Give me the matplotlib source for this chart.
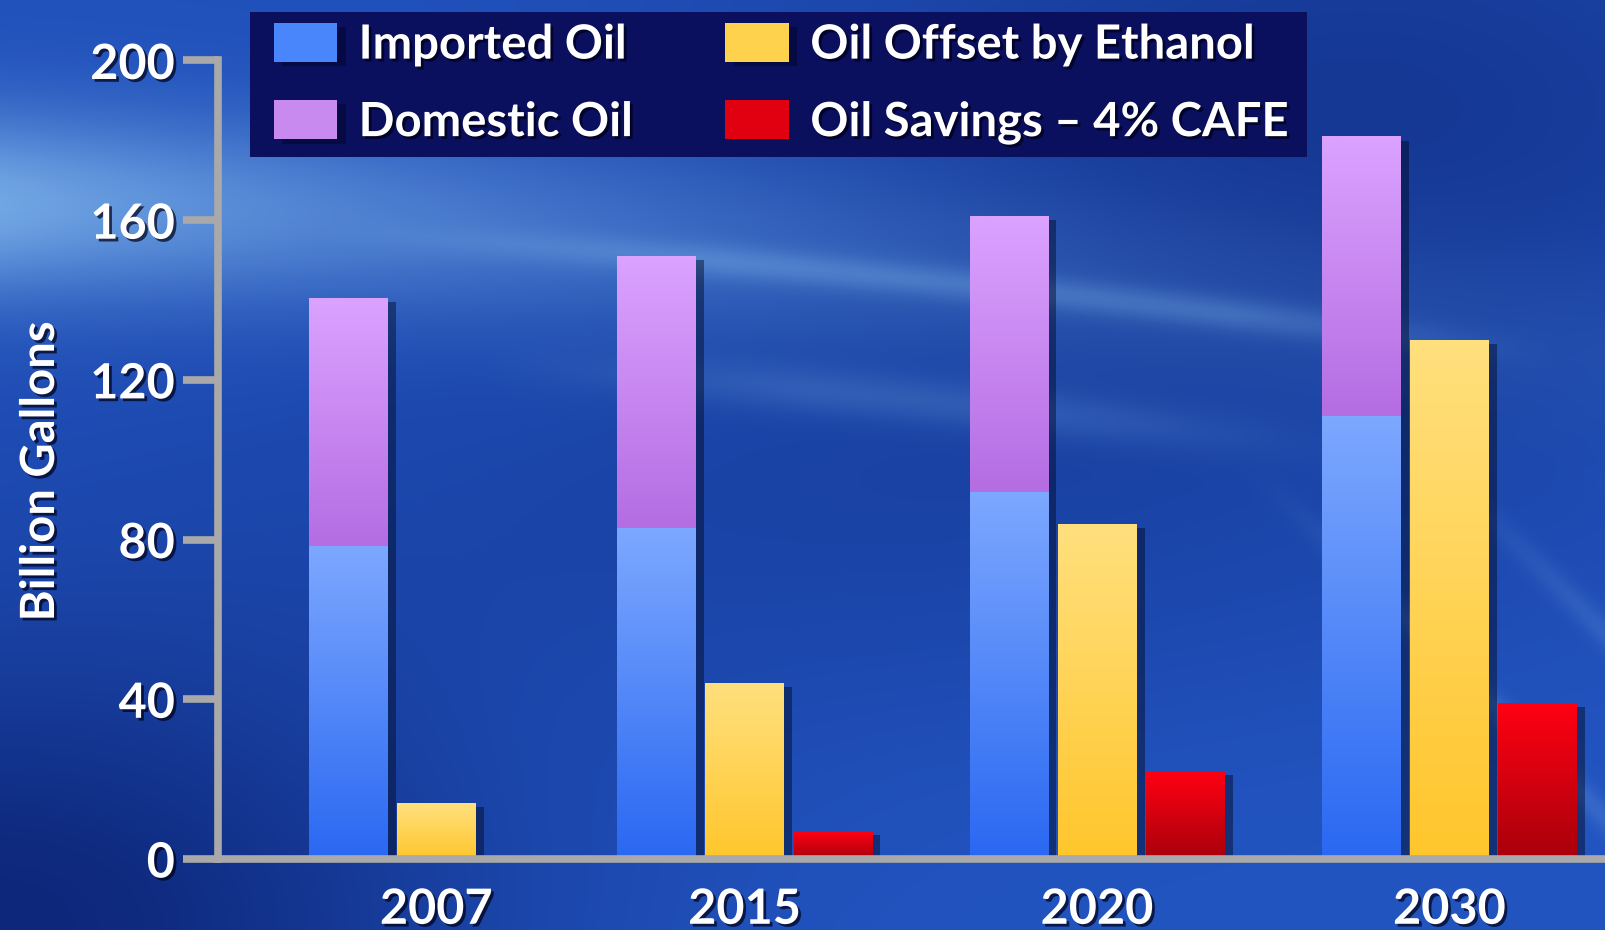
import numpy as np
import matplotlib
matplotlib.use('Agg')
import matplotlib.pyplot as plt
import matplotlib.patheffects as pe
from matplotlib.patches import Rectangle
from matplotlib.colors import LinearSegmentedColormap

# ---------------- data ----------------
years = ['2007', '2015', '2020', '2030']
imported_oil = [78.5, 83, 92, 111]
domestic_oil = [62, 68, 69, 70]
ethanol_offset = [14, 44, 84, 130]
cafe_savings = [0, 7, 22, 39]
series_labels = ['Imported Oil', 'Domestic Oil', 'Oil Offset by Ethanol', 'Oil Savings – 4% CAFE']
y_ticks = [0, 40, 80, 120, 160, 200]
y_label = 'Billion Gallons'

# ---------------- style ----------------
FONT = ['Lato', 'DejaVu Sans']
plt.rcParams['font.family'] = FONT
W, H = 1606, 930
fig = plt.figure(figsize=(W / 100, H / 100), dpi=100)

# background
def make_background(h=465, w=803):
    y, x = np.mgrid[0:1:h * 1j, 0:1:w * 1j]
    dark = np.array([8, 28, 105]) / 255
    mid = np.array([34, 84, 192]) / 255
    light = np.array([140, 195, 242]) / 255
    d1 = np.exp(-(((x - 0.0) / 0.30) ** 2 + ((y - 1.0) / 0.30) ** 2))
    d2 = np.exp(-(((x - 0.85) / 0.35) ** 2 + ((y - 0.12) / 0.30) ** 2))
    d3 = np.exp(-(((x - 0.55) / 0.5) ** 2 + ((y - 0.55) / 0.25) ** 2))
    m = np.clip(0.95 - 0.75 * d1 - 0.45 * d2 - 0.25 * d3 + 0.1 * x * y, 0, 1)
    img = dark + (mid - dark) * m[..., None]
    yc = 0.22 + 0.15 * x ** 1.6
    band = np.exp(-((y - yc) / 0.10) ** 2) * np.exp(-x / 0.40) * 0.75
    line = (np.exp(-((y - yc - 0.02) / 0.018) ** 2) * 0.25
            * np.clip((0.97 - x) / 0.2, 0, 1) * np.clip((x - 0.2) / 0.25, 0, 1))
    line2 = (np.exp(-((y - yc - 0.15) / 0.025) ** 2) * 0.18
             * np.clip((0.85 - x) / 0.2, 0, 1) * np.clip((x - 0.3) / 0.2, 0, 1))
    u = x * 1.73 - y
    streaks = np.zeros_like(x)
    for c in [0.85, 1.05, 1.22, 1.45]:
        streaks += np.exp(-((u - c) / 0.02) ** 2)
    streaks *= 0.18 * np.clip((y - 0.5) / 0.2, 0, 1) * np.clip((x - 0.45) / 0.15, 0, 1)
    glow = np.clip(band + line + line2 + streaks, 0, 1)
    img = img * (1 - glow[..., None]) + light * glow[..., None]
    return np.clip(img, 0, 1)

bg_ax = fig.add_axes([0, 0, 1, 1], zorder=-1)
bg_ax.imshow(make_background(), aspect='auto', extent=[0, 1, 0, 1], origin='upper')
bg_ax.axis('off')

# main axes
ax_left = 218 / W
ax_bottom = (H - 859) / H
ax_top = (H - 60.5) / H
ax = fig.add_axes([ax_left, ax_bottom, 1 - ax_left, ax_top - ax_bottom])
ax.patch.set_alpha(0)

group_centers = np.array([0.0, 3.5, 7.5, 11.5])
bar_w = 0.89
shadow = [pe.SimplePatchShadow(offset=(6, -3), shadow_rgbFace='#000820', alpha=0.45), pe.Normal()]

grad_colors = {
    'imp': ('#2a68f2', '#7da8ff'),
    'dom': ('#b46de2', '#dba2ff'),
    'eth': ('#ffc62c', '#ffe07e'),
    'cafe': ('#a8000c', '#ff0012'),
}
solid = {'imp': '#4a86fb', 'dom': '#c98af0', 'eth': '#ffd24e', 'cafe': '#e00010'}

b_imp = ax.bar(group_centers - 1, imported_oil, bar_w, color=solid['imp'], label=series_labels[0], zorder=3)
b_dom = ax.bar(group_centers - 1, domestic_oil, bar_w, bottom=imported_oil, color=solid['dom'],
               label=series_labels[1], zorder=3)
b_eth = ax.bar(group_centers, ethanol_offset, bar_w, color=solid['eth'], label=series_labels[2], zorder=3)
b_cafe = ax.bar(group_centers + 1, cafe_savings, bar_w, color=solid['cafe'], label=series_labels[3], zorder=3)

grad = np.linspace(0, 1, 128).reshape(-1, 1)
for key, cont in [('imp', b_imp), ('dom', b_dom), ('eth', b_eth), ('cafe', b_cafe)]:
    cmap = LinearSegmentedColormap.from_list(key, grad_colors[key])
    for p in cont.patches:
        if p.get_height() <= 0:
            continue
        p.set_path_effects(shadow)
        x0, y0 = p.get_x(), p.get_y()
        im = ax.imshow(grad, extent=[x0, x0 + p.get_width(), y0, y0 + p.get_height()],
                       origin='lower', cmap=cmap, aspect='auto', zorder=3.5)
        im.set_clip_path(p)

ax.set_xlim((218 - 436.3) / 88.1, (1606 - 436.3) / 88.1)
ax.set_ylim(0, 200)

axis_col = '#a9a9a9'
for s in ['top', 'right']:
    ax.spines[s].set_visible(False)
for s in ['left', 'bottom']:
    ax.spines[s].set_color(axis_col)
    ax.spines[s].set_linewidth(5.5)
    ax.spines[s].set_zorder(4)

txt_shadow = [pe.SimplePatchShadow(offset=(2, -2), shadow_rgbFace='#000018', alpha=0.7), pe.Normal()]

ax.set_yticks(y_ticks)
ax.set_yticklabels([str(v) for v in y_ticks])
ax.tick_params(axis='y', direction='out', length=25, width=5.5, color=axis_col, pad=6,
               labelsize=35, labelcolor='white')
ax.set_xticks(group_centers)
ax.set_xticklabels(years)
ax.tick_params(axis='x', length=0, pad=20, labelsize=35, labelcolor='white')
for t in ax.get_yticklabels() + ax.get_xticklabels():
    t.set_fontweight('bold')
    t.set_path_effects(txt_shadow)
for t in ax.yaxis.get_major_ticks():
    t.tick1line.set_clip_on(False)

ax.set_ylabel(y_label, fontsize=34, fontweight='bold', color='white')
ax.yaxis.label.set_path_effects(txt_shadow)
ax.yaxis.set_label_coords((62 - 218) / (W - 218), (859 - 471) / (859 - 60.5))

# legend
leg_bg = Rectangle((250 / W, 1 - 157 / H), (1307 - 250) / W, 145 / H, transform=fig.transFigure,
                   facecolor='#0a0f5e', edgecolor='none', zorder=8, clip_on=False)
ax.add_artist(leg_bg)
leg = ax.legend(handles=[b_imp, b_dom, b_eth, b_cafe], labels=series_labels, ncol=2,
                loc='upper left', bbox_to_anchor=(250 / W, 1 + 1 / H), bbox_transform=fig.transFigure,
                frameon=False, borderpad=0, handlelength=1.35, handleheight=0.9, handletextpad=0.45,
                columnspacing=1.95, labelspacing=0.71,
                prop={'family': FONT, 'weight': 'bold', 'size': 34})
leg.set_zorder(10)
for t in leg.get_texts():
    t.set_color('white')
    t.set_path_effects(txt_shadow)

fig.savefig('out.png', dpi=100)
